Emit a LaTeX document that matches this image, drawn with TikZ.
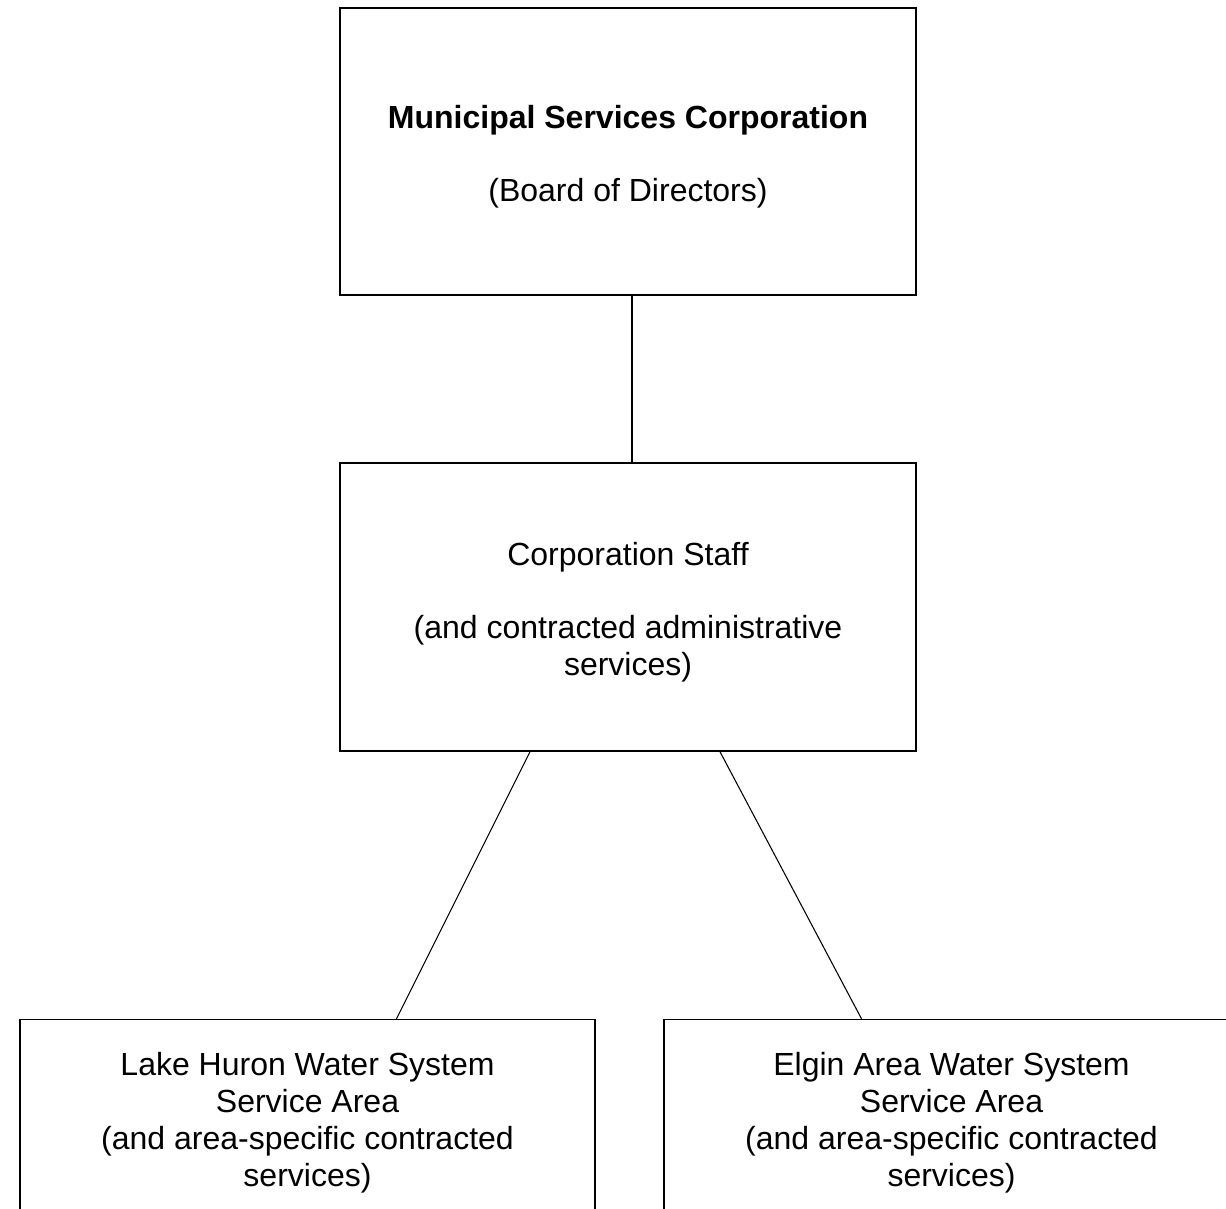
\documentclass[tikz,border=0pt]{standalone}
\usepackage{fontspec}
\setmainfont{Liberation Sans}
\usetikzlibrary{calc}

\newcommand{\orgstrut}{\rule{0pt}{12.6pt}}

\tikzset{
  orgbox/.style={draw, line width=0.55pt, rectangle, inner sep=0pt, align=center,
    font=\fontsize{12}{13.8}\selectfont, minimum width=216pt},
  link/.style={line width=0.4pt}
}

\begin{document}
\begin{tikzpicture}[x=0.375pt, y=-0.375pt]
\clip (0,0) rectangle (1226,1208);
% Board
\node[orgbox, minimum height=107.6pt] (board) at (628,151.5)
  {\orgstrut\textbf{Municipal Services Corporation}\\[13.8pt](Board of Directors)};
% Staff
\node[orgbox, minimum height=108pt] (staff) at (628,607)
  {\orgstrut Corporation Staff\\[13.8pt](and contracted administrative\\services)};
% Service areas
\node[orgbox, minimum height=73.5pt, minimum width=215.6pt] (huron) at (307.5,1117.5)
  {\orgstrut Lake Huron Water System\\Service Area\\(and area-specific contracted\\services)};
\node[orgbox, minimum height=73.5pt, minimum width=215.6pt] (elgin) at (951.5,1117.5)
  {\orgstrut Elgin Area Water System\\Service Area\\(and area-specific contracted\\services)};
% Links
\draw[link] ($(board.south)+(4,0)$) -- ($(staff.north)+(4,0)$);
\draw[link] ($(staff.south)+(-98,0)$) -- ($(huron.north)+(89,0)$);
\draw[link] ($(staff.south)+(92,0)$) -- ($(elgin.north)+(-90,0)$);
\end{tikzpicture}
\end{document}
